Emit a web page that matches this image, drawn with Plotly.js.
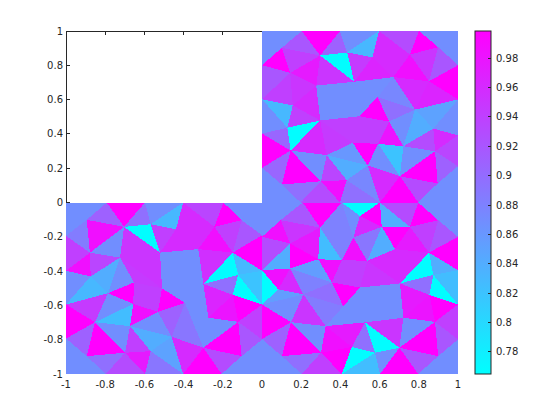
<!DOCTYPE html>
<html><head><meta charset="utf-8">
<script src="https://cdn.plot.ly/plotly-3.0.1.min.js"></script>
<style>html,body{margin:0;padding:0;background:#fff}#c{width:560px;height:420px}.js-fill{shape-rendering:crispEdges}</style>
</head><body><div id="c"></div>
<script>
// upper-right quadrant mesh
const trX=[0,.203,.398,.597,.801,1,.297,.101,.434,.563,.755,.899,0,1,.144,.471,.277,.670,.852,0,.157,.590,.781,1,.495,.648,.297,.129,0,.146,.330,.463,.593,.721,.874,1,.883,1,.896,.704,.539,.432,.301,.101,0,0,.197,.398,.602,.797,1];
const trY=[1,1,1,1,1,1,.857,.902,.875,.847,.863,.906,.801,.801,.756,.704,.682,.731,.707,.602,.566,.614,.542,.601,.503,.472,.478,.436,.402,.303,.276,.348,.342,.328,.431,.392,.299,.212,.111,.153,.216,.130,.124,.105,.202,0,0,0,0,0,0];
const trTris=[[0,1,7],[0,7,12],[1,2,6],[1,6,7],[2,8,6],[2,3,8],[3,9,8],[3,4,10],[3,10,9],[4,11,10],[4,5,11],[5,13,11],[11,13,18],[10,11,18],[10,18,17],[9,10,17],[9,17,15],[8,9,15],[8,15,6],[6,15,16],[6,16,14],[6,14,7],[7,14,12],[12,14,19],[14,20,19],[14,16,20],[16,26,20],[15,17,21],[15,21,24],[15,24,16],[16,24,26],[17,22,21],[17,18,22],[18,13,23],[18,23,22],[21,22,25],[21,25,24],[22,23,34],[22,34,33],[22,33,25],[24,25,32],[24,32,31],[25,33,32],[26,24,31],[26,31,30],[26,30,29],[19,20,27],[20,26,27],[19,27,28],[27,26,29],[28,27,29],[28,29,44],[44,29,43],[29,42,43],[29,30,42],[30,31,40],[31,32,40],[32,39,40],[32,33,39],[33,36,39],[33,34,36],[34,35,36],[23,35,34],[35,37,36],[36,37,38],[37,50,38],[38,50,49],[39,36,38],[39,38,49],[39,49,48],[40,39,48],[41,40,48],[30,40,41],[42,30,41],[42,41,47],[41,48,47],[46,42,47],[43,42,46],[44,43,46],[44,46,45]];
const trV=[.868,.868,.998,.92,.91,.868,.83,.93,.96,.998,.868,.868,.92,.95,.985,.96,.965,.945,.767,.95,.975,.941,.998,.92,.941,.95,.96,.868,.868,.868,.868,.875,.96,.998,.965,.897,.998,.85,.84,.868,.941,.941,.98,.941,.945,.96,.83,.941,.868,.767,.905,.998,.905,.998,.868,.86,.998,.868,.82,.868,.93,.96,.868,.935,.91,.868,.868,.998,.93,.998,.96,.875,.84,.935,.985,.897,.93,.897,.868,.868];

// lower-left quadrant mesh
const blX=[-1,-.792,-.597,-.402,-.197,0,-.704,-.894,-.568,-.439,-.243,-.104,-1,0,-.878,-.520,-.724,-.325,-.149,-1,-.874,0,-.122,-.299,-.510,-.653,-.786,-1,-.657,-.531,-.393,-.149,0,-.274,-.121,0,-.852,-1,-.673,-.461,-.299,-.104,-.894,-.699,-.568,-1,-.797,-.597,-.402,-.206,0];
const blY=[0,0,0,0,0,0,-.142,-.101,-.127,-.156,-.142,-.103,-.194,-.191,-.293,-.292,-.321,-.272,-.292,-.398,-.431,-.398,-.422,-.475,-.501,-.466,-.529,-.595,-.591,-.638,-.585,-.539,-.595,-.672,-.696,-.799,-.698,-.793,-.721,-.783,-.847,-.896,-.896,-.876,-.867,-1,-1,-1,-1,-1,-1];
const blTris=[[0,1,7],[0,7,12],[1,2,6],[1,6,7],[2,8,6],[8,15,6],[2,3,8],[3,9,8],[3,4,10],[3,10,9],[4,11,10],[4,5,11],[5,13,11],[11,13,18],[10,11,18],[10,18,17],[9,10,17],[9,17,15],[8,9,15],[6,15,16],[6,16,14],[7,6,14],[12,7,14],[12,14,19],[19,14,20],[14,16,20],[20,16,26],[16,25,26],[16,24,25],[16,15,24],[15,17,23],[15,23,24],[19,20,27],[20,26,27],[27,26,36],[26,28,36],[26,25,28],[25,24,29],[25,29,28],[28,29,38],[36,28,38],[27,36,37],[37,36,42],[36,43,42],[36,38,43],[38,44,43],[38,29,39],[38,39,44],[43,44,47],[43,47,46],[42,43,46],[37,42,46],[37,46,45],[44,39,48],[44,48,47],[39,40,48],[30,33,40],[39,30,40],[29,30,39],[24,30,29],[24,23,30],[23,33,30],[23,31,33],[33,31,34],[33,34,40],[31,32,34],[32,35,34],[34,35,41],[40,34,41],[40,41,49],[40,49,48],[41,35,50],[41,50,49],[17,18,23],[18,22,23],[18,13,21],[18,21,22],[23,22,31],[22,32,31],[22,21,32]];
const blV=[.868,.868,.998,.91,.897,.767,.868,.83,.935,.96,.998,.868,.868,.92,.941,.985,.96,.96,.941,.95,.868,.985,.885,.941,.985,.935,.84,.868,.945,.95,.868,.868,.868,.83,.945,.868,.998,.941,.941,.985,.825,.998,.91,.998,.868,.941,.868,.84,.975,.93,.897,.868,.868,.85,.89,.96,.868,.89,.91,.998,.868,.868,.965,.98,.868,.998,.941,.92,.998,.93,.998,.868,.868,.955,.767,.998,.83,.897,.767,.82];

// lower-right quadrant mesh
const brX=[0,.208,.407,.602,.797,1,.296,.095,.5,.466,.611,.755,.899,0,.143,1,.287,.407,.537,.679,.852,0,.143,.356,.5,.704,.874,1,.083,.211,0,.415,.854,1,.721,.883,.148,.325,.526,0,1,.458,.577,.301,.101,.701,.899,0,.203,.407,.602,.797,1];
const brY=[0,0,0,0,0,0,-.146,-.103,-.078,-.204,-.142,-.142,-.103,-.2,-.239,-.2,-.331,-.336,-.340,-.272,-.292,-.395,-.385,-.466,-.496,-.472,-.422,-.395,-.507,-.536,-.595,-.605,-.539,-.595,-.672,-.696,-.698,-.721,-.699,-.796,-.799,-.843,-.876,-.876,-.896,-.847,-.896,-1,-1,-1,-1,-1,-1];
const brTris=[[0,1,7],[0,7,13],[1,2,6],[1,6,7],[2,9,6],[2,8,9],[2,3,8],[8,3,10],[8,10,9],[9,10,18],[9,18,17],[6,9,17],[6,17,16],[3,4,11],[3,11,10],[4,12,11],[4,5,12],[5,15,12],[12,15,20],[11,12,20],[11,20,19],[10,11,19],[10,19,18],[18,19,25],[18,25,24],[17,18,24],[17,24,23],[16,17,23],[23,24,31],[29,23,31],[22,23,29],[22,16,23],[14,16,22],[14,6,16],[7,6,14],[13,7,14],[13,14,21],[21,14,22],[21,22,28],[22,29,28],[21,28,30],[30,28,29],[30,29,36],[30,36,39],[39,36,44],[36,43,44],[36,37,43],[29,37,36],[29,31,37],[31,38,37],[31,24,34],[31,34,38],[24,25,34],[37,38,41],[37,41,43],[43,41,49],[43,49,48],[44,43,48],[39,44,48],[39,48,47],[38,42,41],[41,42,49],[42,50,49],[42,45,50],[38,45,42],[38,34,45],[34,35,45],[34,32,35],[25,32,34],[32,33,35],[33,40,35],[35,40,46],[40,52,46],[46,52,51],[45,35,46],[45,46,51],[45,51,50],[25,20,26],[25,26,32],[20,27,26],[19,20,25],[20,15,27],[26,27,33],[26,33,32]];
const brV=[.868,.868,.998,.92,.88,.868,.767,.998,.96,.89,.985,.88,.825,.93,.84,.998,.868,.868,.92,.941,.975,.998,.84,.96,.95,.941,.941,.985,.998,.897,.88,.855,.998,.975,.95,.985,.93,.84,.985,.96,.767,.855,.868,.998,.91,.998,.868,.95,.885,.868,.868,.868,.868,.975,.985,.998,.941,.897,.868,.868,.897,.767,.825,.868,.767,.95,.868,.98,.975,.998,.941,.92,.868,.868,.998,.92,.998,.767,.897,.84,.96,.998,.825,.767];

const cMin=.765, cMax=.9984;
const colorTicks=[.78,.8,.82,.84,.86,.88,.9,.92,.94,.96,.98];
const colorTickText=['0.78','0.8','0.82','0.84','0.86','0.88','0.9','0.92','0.94','0.96','0.98'];
const axisTicks=[-1,-.8,-.6,-.4,-.2,0,.2,.4,.6,.8,1];
const axisTickText=['-1','-0.8','-0.6','-0.4','-0.2','0','0.2','0.4','0.6','0.8','1'];

function cool(v){
  const t=Math.max(0,Math.min(1,(v-cMin)/(cMax-cMin)));
  const r=Math.round(255*t);
  return 'rgb('+r+','+(255-r)+',255)';
}
const traces=[];
function addMesh(X,Y,tris,vals){
  tris.forEach(function(t,i){
    traces.push({type:'scatter',mode:'none',fill:'toself',hoverinfo:'skip',showlegend:false,
      x:[X[t[0]],X[t[1]],X[t[2]],X[t[0]]],
      y:[Y[t[0]],Y[t[1]],Y[t[2]],Y[t[0]]],
      fillcolor:cool(vals[i])});
  });
}
addMesh(trX,trY,trTris,trV);
addMesh(blX,blY,blTris,blV);
addMesh(brX,brY,brTris,brV);
// colour bar carrier (outside the axis range)
traces.push({type:'scatter',mode:'markers',x:[5,5],y:[5,5],hoverinfo:'skip',showlegend:false,
  marker:{color:[cMin,cMax],cmin:cMin,cmax:cMax,size:1,
    colorscale:[[0,'#00ffff'],[1,'#ff00ff']],showscale:true,
    colorbar:{xref:'paper',yref:'paper',x:1.0434,xanchor:'left',y:.5,yanchor:'middle',len:1,lenmode:'fraction',
      thickness:16,thicknessmode:'pixels',xpad:0,ypad:0,outlinecolor:'#262626',outlinewidth:1,
      ticks:'inside',ticklen:3,tickcolor:'#262626',tickwidth:1,tickmode:'array',tickvals:colorTicks,ticktext:colorTickText,
      tickfont:{family:'DejaVu Sans',size:10,color:'#262626'}}}});
const ax={range:[-1,1],tickmode:'array',tickvals:axisTicks,ticktext:axisTickText,ticks:'inside',ticklen:4,tickwidth:1,
  tickcolor:'#262626',showline:false,mirror:'ticks',showgrid:false,zeroline:false,
  layer:'below traces',tickfont:{family:'DejaVu Sans',size:10,color:'#262626'},fixedrange:true};
// box edges sit underneath the mesh, so only the part bordering the empty quadrant shows
const boxLine={color:'#262626',width:1};
const layout={width:560,height:420,margin:{l:66,r:102,t:31,b:46,pad:0},paper_bgcolor:'#fff',plot_bgcolor:'#fff',
  showlegend:false,
  xaxis:Object.assign({},ax,{ticklabelstandoff:3}),
  yaxis:Object.assign({},ax,{ticklabelstandoff:2}),
  shapes:[
    {type:'line',layer:'below',xref:'x',yref:'y',x0:-.9975,x1:-.9975,y0:-1,y1:1,line:boxLine},
    {type:'line',layer:'below',xref:'x',yref:'y',x0:-1,x1:1,y0:.9971,y1:.9971,line:boxLine}
  ]};
Plotly.newPlot('c',traces,layout,{displayModeBar:false,staticPlot:true}).then(function(){
  document.querySelectorAll('.colorbar text').forEach(function(el){
    el.setAttribute('x',(parseFloat(el.getAttribute('x'))||0)+2);
  });
});
</script></body></html>
